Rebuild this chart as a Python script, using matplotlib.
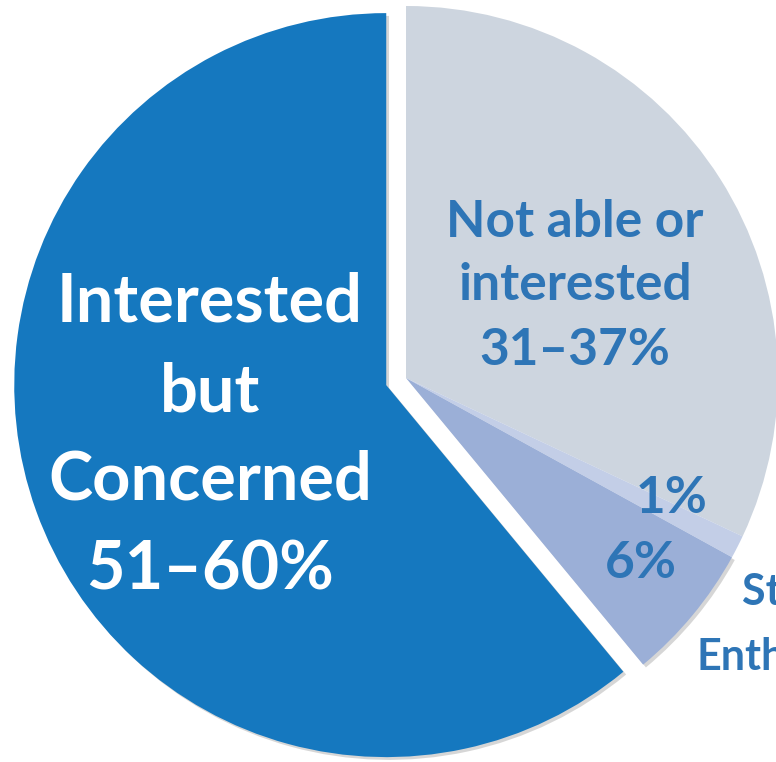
import matplotlib.pyplot as plt
from matplotlib.patches import Shadow

# cyclist types, drawn clockwise from 12 o'clock
tipos = ['Not able or interested', 'Strong and Fearless', 'Enthused and Confident', 'Interested but Concerned']
valores = [32, 1, 6, 61]
cores = ['#CDD5DF', '#B9C6E3', '#9BAFD7', '#1578BF']
afastar = [0, 0, 0, 21]  # em unidades do eixo (pixels)

azul_texto = '#2E75B6'
fonte = 'Lato'

W, H = 776, 762
fig = plt.figure(figsize=(W / 100, H / 100), dpi=100)
ax = fig.add_axes([0, 0, 1, 1])

fatias, _ = ax.pie(valores, colors=cores, explode=afastar, startangle=90,
                   counterclock=False, center=(406, H - 378), radius=372,
                   wedgeprops={'linewidth': 0})
fatias[1].set_alpha(0.85)

# pie() mexe nos limites, entao define depois
ax.set_xlim(0, W)
ax.set_ylim(0, H)
ax.set_aspect('equal')
ax.axis('off')

# sombra leve nas fatias de baixo
for f in (fatias[2], fatias[3]):
    s = Shadow(f, 2.0, -2.0, facecolor='#9a9a9a', edgecolor='none', alpha=0.4)
    s.set_zorder(f.get_zorder() - 0.5)
    ax.add_patch(s)

# rotulo da fatia azul
for txt, y in [('Interested', 322), ('but', 411), ('Concerned', 500), ('51–60%', 590)]:
    ax.text(210, H - y, txt, ha='center', va='baseline', color='white',
            fontsize=48, fontweight='bold', family=fonte)

# rotulo da fatia cinza
for txt, y in [('Not able or', 237), ('interested', 300), ('31–37%', 365)]:
    ax.text(575, H - y, txt, ha='center', va='baseline', color=azul_texto,
            fontsize=37, fontweight='bold', family=fonte)

ax.text(672, H - 513, '1%', ha='center', va='baseline', color=azul_texto,
        fontsize=37, fontweight='bold', family=fonte)
ax.text(641, H - 578, '6%', ha='center', va='baseline', color=azul_texto,
        fontsize=37, fontweight='bold', family=fonte)

# legenda externa, cortada na borda
ax.text(742, H - 605, 'Strong &', ha='left', va='baseline', color=azul_texto,
        fontsize=31, fontweight='bold', family=fonte)
ax.text(697, H - 670, 'Enthused', ha='left', va='baseline', color=azul_texto,
        fontsize=31, fontweight='bold', family=fonte)

fig.savefig('out.png', dpi=100)
